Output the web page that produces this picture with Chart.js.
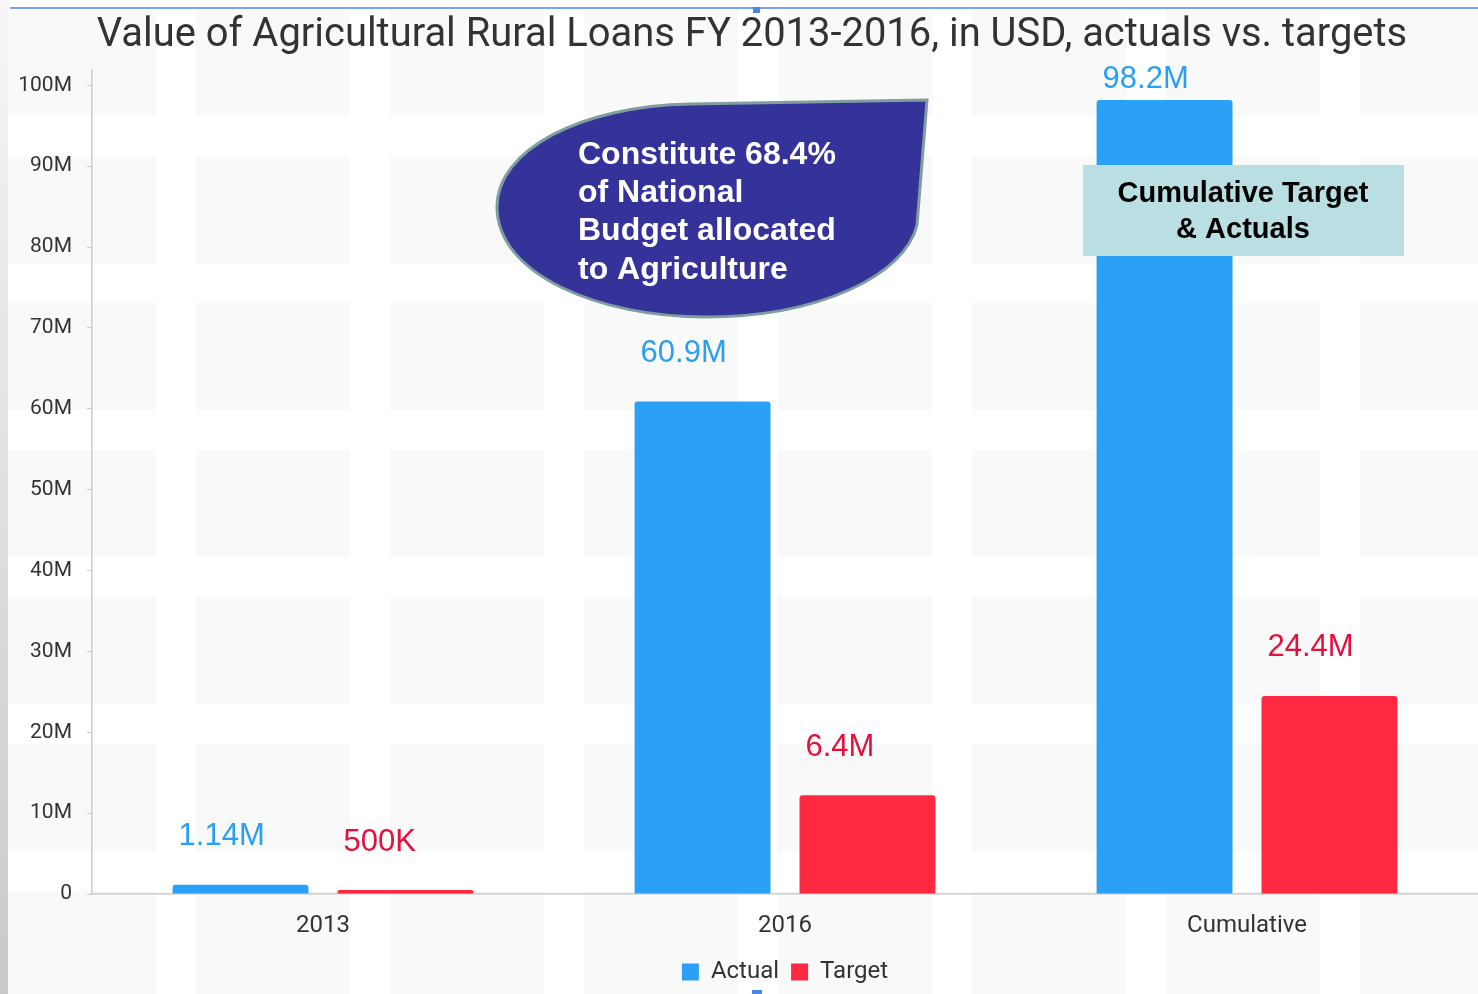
<!DOCTYPE html>
<html>
<head>
<meta charset="utf-8">
<script src="https://cdn.jsdelivr.net/npm/chart.js@4"></script>
<style>
  html, body { margin: 0; padding: 0; background: #fff; }
  #wrap { width: 1478px; height: 994px; }
</style>
</head>
<body>
<div id="wrap"><canvas id="myChart"></canvas></div>
<script>
const categories = ['2013', '2016', 'Cumulative'];
const actualValues = [1.14e6, 60.9e6, 98.2e6];
const targetValues = [0.5e6, 12.2e6, 24.5e6];
const actualLabels = ['1.14M', '60.9M', '98.2M'];
const targetLabels = ['500K', '6.4M', '24.4M'];
const yTicks = [0, 10e6, 20e6, 30e6, 40e6, 50e6, 60e6, 70e6, 80e6, 90e6, 100e6];

const titleText = 'Value of Agricultural Rural Loans FY 2013-2016, in USD, actuals vs. targets';
const calloutLines = ['Constitute 68.4%', 'of National', 'Budget allocated', 'to Agriculture'];
const boxLines = ['Cumulative Target', '& Actuals'];

const ctx = document.getElementById('myChart').getContext('2d');

function fmtTick(v) {
    if (v === 0) return '0';
    return (v / 1e6) + 'M';
}

// faint checker background, edges, title
const backdrop = {
    id: 'backdrop',
    beforeDraw(chart) {
        const c = chart.ctx;
        c.save();
        c.fillStyle = '#ffffff';
        c.fillRect(0, 0, chart.width, chart.height);
        c.fillStyle = '#f9f9f9';
        for (let x = 2; x < chart.width; x += 194) {
            for (let y = 9; y < chart.height; y += 147) {
                const x0 = Math.max(x, 8), y0 = Math.max(y, 10);
                c.fillRect(x0, y0, x + 154 - x0, y + 107 - y0);
            }
        }
        const g = c.createLinearGradient(0, 0, 0, chart.height);
        g.addColorStop(0, '#f6f6f6');
        g.addColorStop(1, '#c9c9c9');
        c.fillStyle = g;
        c.fillRect(0, 0, 8, chart.height);
        c.strokeStyle = '#4a86e8';
        c.lineWidth = 1.5;
        c.beginPath();
        c.moveTo(10, 8);
        c.lineTo(chart.width, 8);
        c.stroke();
        c.fillStyle = '#4a86e8';
        c.fillRect(753, 7, 7, 6);
        c.fillRect(752, 990, 10, 4);
        c.restore();
    },
    afterDraw(chart) {
        const c = chart.ctx;
        c.save();
        // title, scaled to span the same width as the reference
        let size = 38;
        c.font = size + 'px Roboto';
        size = size * 1311 / c.measureText(titleText).width;
        c.font = size + 'px Roboto';
        c.fillStyle = '#333333';
        c.textAlign = 'center';
        c.textBaseline = 'middle';
        c.fillText(titleText, 752, 36);

        // value labels above the bars
        c.font = '31px "Liberation Sans", Arial, sans-serif';
        c.textAlign = 'left';
        const top = chart.chartArea.top;
        const sets = [[0, actualLabels, '#2a9ff2'], [1, targetLabels, '#e3103e']];
        sets.forEach(([di, labels, color]) => {
            const meta = chart.getDatasetMeta(di);
            c.fillStyle = color;
            meta.data.forEach((bar, i) => {
                const y = Math.max(bar.y - 48, top + 9);
                c.fillText(labels[i], bar.x - bar.width / 2 + 6, y);
            });
        });

        // callout bubble
        c.beginPath();
        c.moveTo(927, 100);
        c.lineTo(690, 104);
        c.bezierCurveTo(580, 106, 497, 150, 497, 207);
        c.bezierCurveTo(497, 275, 600, 317, 705, 317);
        c.bezierCurveTo(820, 317, 905, 275, 917, 225);
        c.closePath();
        c.fillStyle = '#35339a';
        c.fill();
        c.lineWidth = 3;
        c.strokeStyle = '#7f9ea0';
        c.stroke();
        c.fillStyle = '#ffffff';
        c.font = 'bold 32px "Liberation Sans", Arial, sans-serif';
        c.textAlign = 'left';
        calloutLines.forEach((t, i) => c.fillText(t, 578, 155 + i * 38.3));

        // cumulative note box
        c.fillStyle = '#b9dfe3';
        c.fillRect(1083, 165, 321, 91);
        c.fillStyle = '#000000';
        c.font = 'bold 29px "Liberation Sans", Arial, sans-serif';
        c.textAlign = 'center';
        boxLines.forEach((t, i) => c.fillText(t, 1243, 194 + i * 36));
        c.restore();
    }
};

new Chart(ctx, {
    type: 'bar',
    data: {
        labels: categories,
        datasets: [
            {
                label: 'Actual',
                data: actualValues,
                backgroundColor: '#2aa0f7',
                borderRadius: 3,
                categoryPercentage: 0.714,
                barPercentage: 0.824
            },
            {
                label: 'Target',
                data: targetValues,
                backgroundColor: '#ff2a42',
                borderRadius: 3,
                categoryPercentage: 0.714,
                barPercentage: 0.824
            }
        ]
    },
    options: {
        responsive: true,
        maintainAspectRatio: false,
        animation: false,
        devicePixelRatio: 1,
        layout: { padding: { top: 70, left: 0, right: 0, bottom: 0 } },
        plugins: {
            title: { display: false },
            tooltip: { enabled: false },
            legend: {
                position: 'bottom',
                fullSize: false,
                labels: {
                    font: { family: 'Roboto', size: 24 },
                    color: '#333333',
                    boxWidth: 17,
                    boxHeight: 17,
                    padding: 12
                }
            }
        },
        scales: {
            x: {
                grid: { display: false },
                border: { display: true, color: '#cccccc', width: 1.5 },
                ticks: {
                    font: { family: 'Roboto', size: 24 },
                    color: '#333333',
                    padding: 10
                },
                afterFit(scale) { scale.height = 54; }
            },
            y: {
                min: 0,
                max: 101.9e6,
                grid: {
                    drawOnChartArea: false,
                    drawTicks: true,
                    tickLength: 5,
                    color: '#cccccc'
                },
                border: { display: true, color: '#cccccc', width: 1.5 },
                ticks: {
                    stepSize: 10e6,
                    includeBounds: false,
                    font: { family: 'Roboto', size: 21 },
                    color: '#333333',
                    padding: 15,
                    callback: fmtTick
                },
                afterBuildTicks(scale) { scale.ticks = yTicks.map(v => ({ value: v })); },
                afterFit(scale) { scale.width = 92; }
            }
        }
    },
    plugins: [backdrop]
});
</script>
</body>
</html>
